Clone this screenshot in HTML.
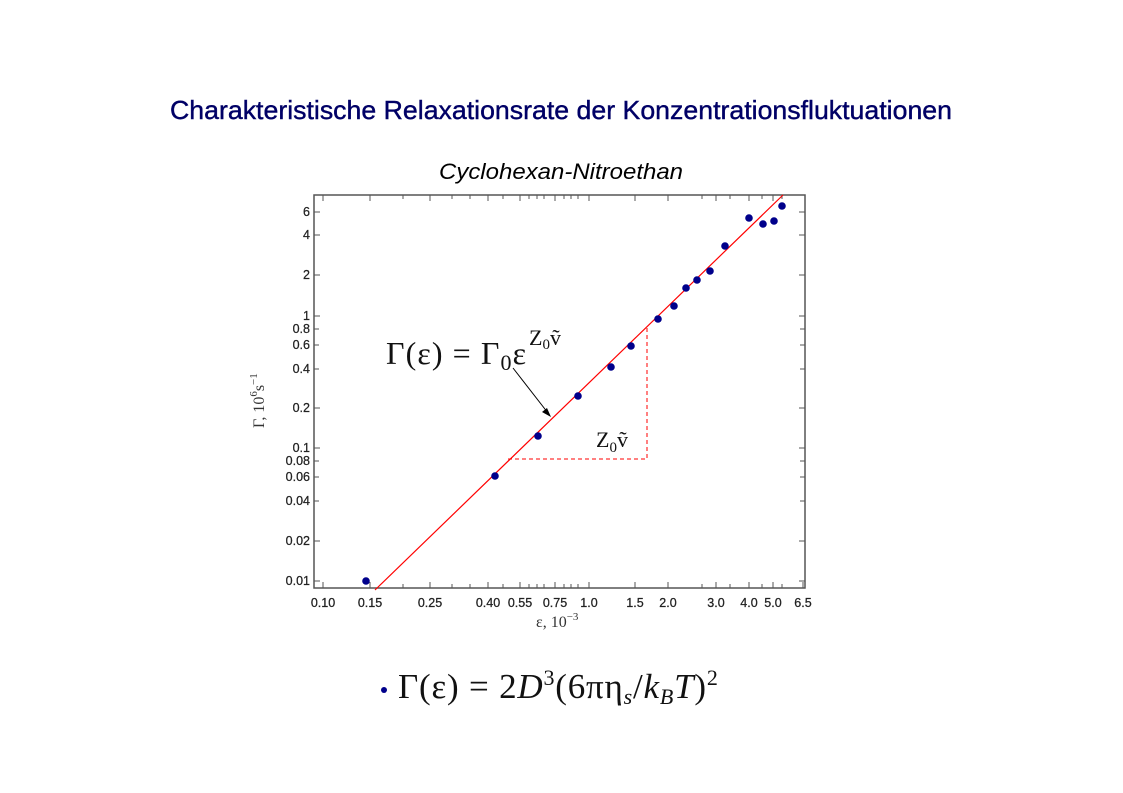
<!DOCTYPE html>
<html><head><meta charset="utf-8"><style>body{margin:0;background:#fff}svg{display:block}</style></head>
<body>
<svg width="1123" height="793" xmlns="http://www.w3.org/2000/svg" font-family="Liberation Sans, sans-serif">
<rect width="1123" height="793" fill="#fff"/>
<text x="170" y="119" font-size="26" fill="#000066" stroke="#000066" stroke-width="0.4" textLength="782" lengthAdjust="spacingAndGlyphs">Charakteristische Relaxationsrate der Konzentrationsfluktuationen</text>
<text x="439" y="179" font-size="22" font-style="italic" fill="#000" textLength="244" lengthAdjust="spacingAndGlyphs">Cyclohexan-Nitroethan</text>
<rect x="314" y="195" width="491" height="393" fill="none" stroke="#555" stroke-width="1.5"/>
<g stroke="#555" stroke-width="1">
<path d="M314 212h6M314 235h6M314 275h6M314 316h6M314 329h5M314 345h5M314 369h5M314 408h6M314 448h6M314 461h5M314 477h5M314 501h5M314 541h6M314 581h6
M805 212h-6M805 235h-6M805 275h-6M805 316h-6M805 329h-5M805 345h-5M805 369h-5M805 408h-6M805 448h-6M805 461h-5M805 477h-5M805 501h-5M805 541h-6M805 581h-6"/>
<path d="M323 588v-6M370 588v-6M430 588v-6M488 588v-6M520 588v-6M555 588v-6M589 588v-6M635 588v-6M668 588v-6M716 588v-6M749 588v-6M773 588v-6M803 588v-6
M323 195v6M370 195v6M430 195v6M488 195v6M520 195v6M555 195v6M589 195v6M635 195v6M668 195v6M716 195v6M749 195v6M773 195v6
M403 588v-4M452 588v-4M470 588v-4M503 588v-4M529 588v-4M537 588v-4M544 588v-4M564 588v-4M571 588v-4M578 588v-4M702 588v-4M730 588v-4M762 588v-4M782 588v-4
M403 195v4M452 195v4M470 195v4M503 195v4M529 195v4M537 195v4M544 195v4M564 195v4M571 195v4M578 195v4M702 195v4M730 195v4M762 195v4M782 195v4"/>
</g>
<g font-size="12.5" fill="#222" stroke="#222" stroke-width="0.25" text-anchor="end">
<text x="310" y="216">6</text><text x="310" y="239">4</text><text x="310" y="279">2</text>
<text x="310" y="320">1</text><text x="310" y="333">0.8</text><text x="310" y="349">0.6</text><text x="310" y="373">0.4</text>
<text x="310" y="412">0.2</text><text x="310" y="452">0.1</text><text x="310" y="465">0.08</text><text x="310" y="481">0.06</text>
<text x="310" y="505">0.04</text><text x="310" y="545">0.02</text><text x="310" y="585">0.01</text>
</g>
<g font-size="12.5" fill="#222" stroke="#222" stroke-width="0.25" text-anchor="middle">
<text x="323" y="607">0.10</text><text x="370" y="607">0.15</text><text x="430" y="607">0.25</text><text x="488" y="607">0.40</text>
<text x="520" y="607">0.55</text><text x="555" y="607">0.75</text><text x="589" y="607">1.0</text><text x="635" y="607">1.5</text>
<text x="668" y="607">2.0</text><text x="716" y="607">3.0</text><text x="749" y="607">4.0</text><text x="773" y="607">5.0</text><text x="803" y="607">6.5</text>
</g>
<text x="536" y="627" font-family="Liberation Serif, serif" font-size="16" fill="#333">ε, 10<tspan dy="-7" font-size="11">−3</tspan></text>
<text transform="translate(264,428) rotate(-90)" font-family="Liberation Serif, serif" font-size="16" fill="#333">Γ, 10<tspan dy="-7" font-size="11">6</tspan><tspan dy="7">s</tspan><tspan dy="-7" font-size="11">−1</tspan></text>
<line x1="375" y1="590" x2="783" y2="195" stroke="#f00" stroke-width="1.2"/>
<path d="M508 459H647V325" fill="none" stroke="#f00" stroke-width="1" stroke-dasharray="4,3"/>
<g fill="#00008b">
<circle cx="366" cy="581" r="3.8"/><circle cx="495" cy="476" r="3.8"/><circle cx="538" cy="436" r="3.8"/><circle cx="578" cy="396" r="3.8"/>
<circle cx="611" cy="367" r="3.8"/><circle cx="631" cy="346" r="3.8"/><circle cx="658" cy="319" r="3.8"/><circle cx="674" cy="306" r="3.8"/>
<circle cx="686" cy="288" r="3.8"/><circle cx="697" cy="280" r="3.8"/><circle cx="710" cy="271" r="3.8"/><circle cx="725" cy="246" r="3.8"/>
<circle cx="749" cy="218" r="3.8"/><circle cx="763" cy="224" r="3.8"/><circle cx="774" cy="221" r="3.8"/><circle cx="782" cy="206" r="3.8"/>
</g>
<line x1="513" y1="368" x2="548" y2="413" stroke="#000" stroke-width="1"/>
<path d="M551 417l-9-5 5-4z" fill="#000"/>
<text x="386" y="364" font-family="Liberation Serif, serif" font-size="32" fill="#111" textLength="140" lengthAdjust="spacing">Γ(ε) = Γ<tspan dy="6" font-size="22">0</tspan><tspan dy="-6">ε</tspan></text>
<text x="529" y="345" font-family="Liberation Serif, serif" font-size="22" fill="#111">Z<tspan dy="4" font-size="15">0</tspan><tspan dy="-4">ṽ</tspan></text>
<text x="596" y="447" font-family="Liberation Serif, serif" font-size="22" fill="#111">Z<tspan dy="5" font-size="15">0</tspan><tspan dy="-5">ṽ</tspan></text>
<circle cx="384" cy="690" r="3" fill="#00008b"/>
<text x="398" y="698" font-family="Liberation Serif, serif" font-size="35" fill="#111" letter-spacing="0.8">Γ(ε) = 2<tspan font-style="italic">D</tspan><tspan dy="-13" font-size="22">3</tspan><tspan dy="13">(6πη</tspan><tspan dy="6" font-size="22" font-style="italic">s</tspan><tspan dy="-6">/</tspan><tspan font-style="italic">k</tspan><tspan dy="6" font-size="22" font-style="italic">B</tspan><tspan dy="-6" font-style="italic">T</tspan><tspan>)</tspan><tspan dy="-13" font-size="22">2</tspan></text>
</svg>
</body></html>
